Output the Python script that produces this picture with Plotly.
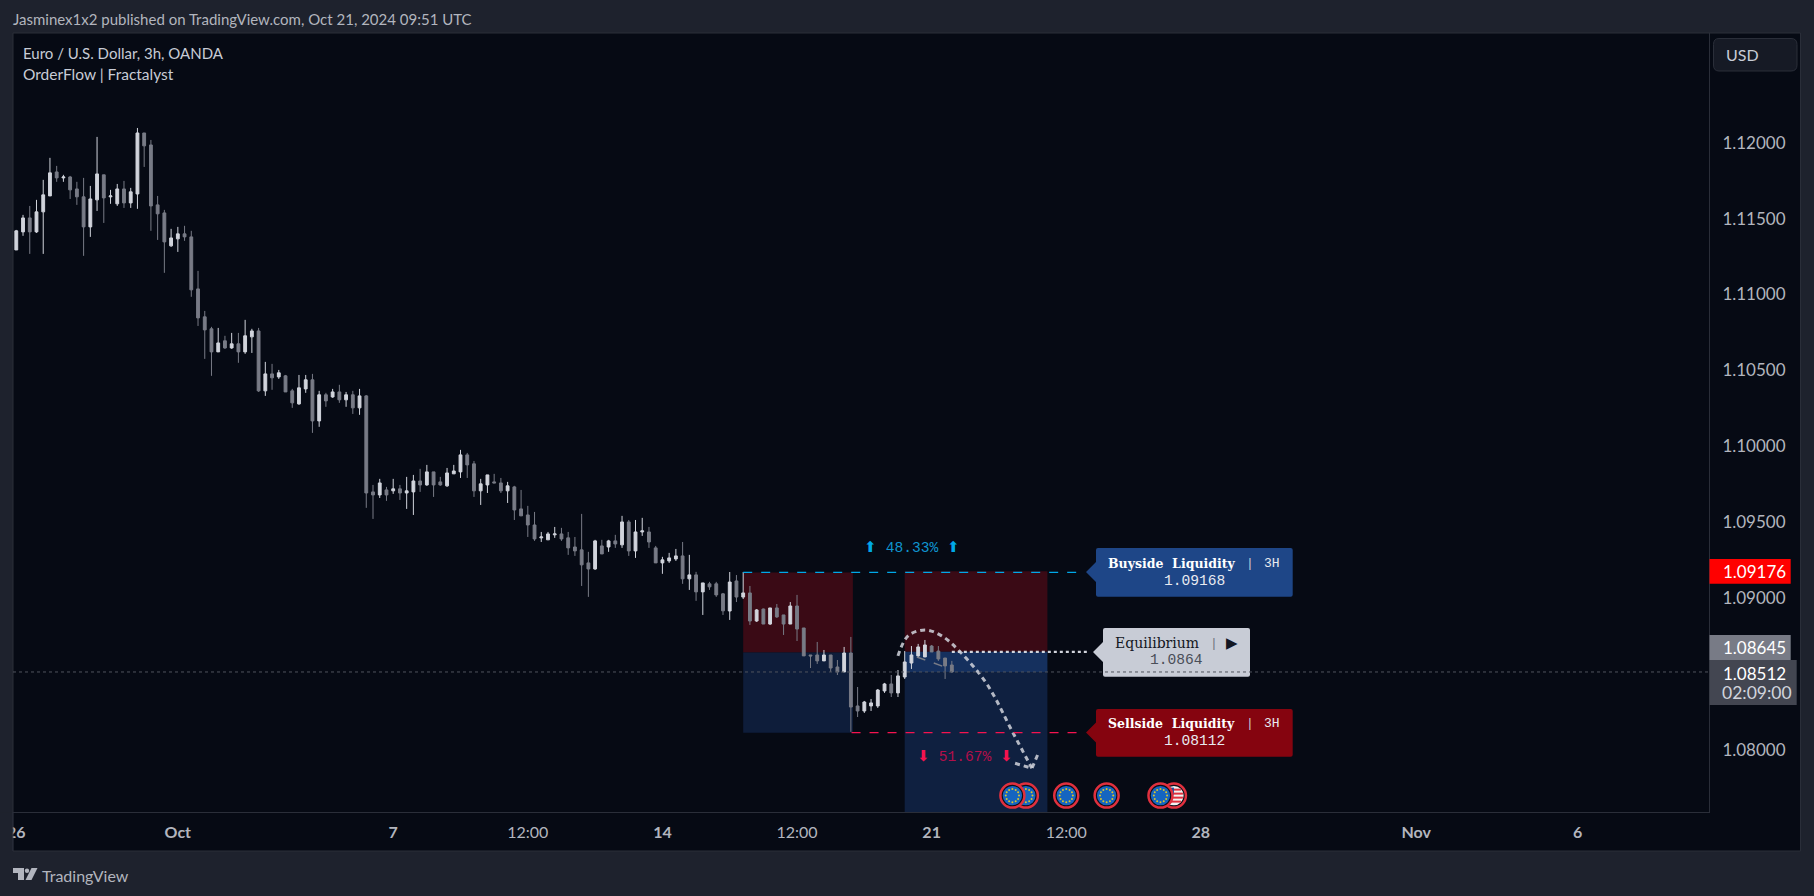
import math
import plotly.graph_objects as go

high = [
1.11426,1.11525,1.11584,1.11624,1.11756,1.11901,1.11848,1.11789,1.11782,1.11743,
1.11769,1.11716,1.12039,1.11789,1.11690,1.11729,1.11749,1.11703,1.12098,1.12065,
1.12019,1.11650,1.11558,1.11433,1.11446,1.11453,1.11420,1.11156,1.10892,1.10787,
1.10780,1.10728,1.10747,1.10747,1.10833,1.10774,1.10780,1.10556,1.10543,1.10503,
1.10470,1.10378,1.10470,1.10470,1.10477,1.10365,1.10352,1.10378,1.10405,1.10358,
1.10365,1.10378,1.10338,1.09745,1.09785,1.09732,1.09785,1.09745,1.09798,1.09811,
1.09851,1.09877,1.09831,1.09798,1.09857,1.09877,1.09976,1.09956,1.09903,1.09785,
1.09811,1.09818,1.09791,1.09765,1.09739,1.09712,1.09607,1.09567,1.09435,1.09435,
1.09468,1.09462,1.09435,1.09402,1.09554,1.09304,1.09383,1.09383,1.09383,1.09416,
1.09541,1.09514,1.09514,1.09528,1.09468,1.09343,1.09271,1.09297,1.09323,1.09369,
1.09284,1.09172,1.09099,1.09106,1.09106,1.09033,1.09171,1.09151,1.09171,1.09079,
1.08927,1.08930,1.08934,1.08960,1.08888,1.08973,1.09020,1.08802,1.08624,1.08710,
1.08657,1.08624,1.08591,1.08677,1.08743,1.08413,1.08321,1.08334,1.08400,1.08440,
1.08492,1.08525,1.08650,1.08683,1.08697,1.08723,1.08690,1.08683,1.08604,1.08585]

low = [
1.11294,1.11387,1.11268,1.11406,1.11268,1.11650,1.11743,1.11743,1.11630,1.11591,
1.11255,1.11380,1.11551,1.11472,1.11598,1.11584,1.11571,1.11571,1.11565,1.11841,
1.11420,1.11360,1.11143,1.11314,1.11281,1.11354,1.10985,1.10793,1.10576,1.10464,
1.10622,1.10642,1.10642,1.10550,1.10609,1.10615,1.10358,1.10332,1.10372,1.10444,
1.10358,1.10253,1.10273,1.10352,1.10088,1.10128,1.10260,1.10319,1.10286,1.10260,
1.10213,1.10207,1.09594,1.09521,1.09659,1.09640,1.09686,1.09646,1.09587,1.09547,
1.09699,1.09739,1.09666,1.09739,1.09732,1.09818,1.09791,1.09791,1.09666,1.09613,
1.09692,1.09758,1.09692,1.09626,1.09514,1.09541,1.09402,1.09376,1.09369,1.09383,
1.09396,1.09376,1.09284,1.09277,1.09079,1.09007,1.09185,1.09290,1.09304,1.09330,
1.09330,1.09277,1.09264,1.09409,1.09330,1.09231,1.09159,1.09231,1.09244,1.09093,
1.09053,1.08981,1.08888,1.09053,1.09007,1.08888,1.08855,1.08973,1.08993,1.08822,
1.08842,1.08828,1.08822,1.08868,1.08756,1.08828,1.08716,1.08618,1.08538,1.08565,
1.08585,1.08512,1.08492,1.08512,1.08117,1.08215,1.08242,1.08255,1.08275,1.08374,
1.08347,1.08347,1.08466,1.08532,1.08611,1.08611,1.08644,1.08585,1.08466,1.08505]

open_ = [
1.11294,1.11413,1.11505,1.11413,1.11545,1.11650,1.11808,1.11769,1.11775,1.11696,
1.11644,1.11446,1.11624,1.11789,1.11644,1.11598,1.11696,1.11604,1.11663,1.12065,
1.11986,1.11591,1.11538,1.11321,1.11367,1.11400,1.11380,1.11037,1.10853,1.10774,
1.10622,1.10695,1.10648,1.10675,1.10622,1.10721,1.10760,1.10365,1.10477,1.10457,
1.10464,1.10365,1.10279,1.10378,1.10438,1.10167,1.10339,1.10325,1.10358,1.10306,
1.10339,1.10253,1.10332,1.09699,1.09679,1.09712,1.09706,1.09719,1.09692,1.09699,
1.09771,1.09745,1.09831,1.09765,1.09739,1.09818,1.09831,1.09943,1.09884,1.09706,
1.09745,1.09765,1.09758,1.09706,1.09732,1.09587,1.09547,1.09481,1.09396,1.09383,
1.09416,1.09422,1.09396,1.09336,1.09317,1.09231,1.09191,1.09343,1.09336,1.09376,
1.09350,1.09501,1.09310,1.09435,1.09435,1.09330,1.09231,1.09244,1.09257,1.09277,
1.09126,1.09152,1.09040,1.09093,1.09093,1.09027,1.08914,1.09112,1.09006,1.09033,
1.08848,1.08927,1.08828,1.08934,1.08888,1.08828,1.08947,1.08802,1.08624,1.08624,
1.08585,1.08624,1.08545,1.08512,1.08637,1.08288,1.08255,1.08288,1.08288,1.08387,
1.08433,1.08374,1.08479,1.08571,1.08618,1.08611,1.08683,1.08650,1.08604,1.08558]

close = [
1.11420,1.11505,1.11413,1.11545,1.11657,1.11802,1.11769,1.11775,1.11690,1.11644,
1.11446,1.11630,1.11795,1.11637,1.11650,1.11696,1.11604,1.11677,1.12065,1.11980,
1.11584,1.11532,1.11347,1.11373,1.11400,1.11380,1.11031,1.10846,1.10767,1.10622,
1.10681,1.10648,1.10675,1.10622,1.10728,1.10760,1.10365,1.10477,1.10451,1.10484,
1.10358,1.10286,1.10385,1.10438,1.10167,1.10339,1.10299,1.10358,1.10306,1.10339,
1.10253,1.10332,1.09692,1.09679,1.09758,1.09679,1.09719,1.09692,1.09706,1.09771,
1.09745,1.09831,1.09745,1.09745,1.09824,1.09837,1.09943,1.09877,1.09706,1.09752,
1.09811,1.09758,1.09706,1.09739,1.09580,1.09541,1.09481,1.09389,1.09402,1.09422,
1.09422,1.09389,1.09330,1.09310,1.09218,1.09191,1.09376,1.09290,1.09376,1.09356,
1.09501,1.09310,1.09435,1.09442,1.09369,1.09231,1.09251,1.09264,1.09277,1.09126,
1.09152,1.09040,1.09099,1.09073,1.09020,1.08915,1.09105,1.09006,1.09033,1.08848,
1.08921,1.08828,1.08934,1.08875,1.08828,1.08947,1.08795,1.08618,1.08618,1.08585,
1.08624,1.08538,1.08512,1.08637,1.08281,1.08255,1.08314,1.08308,1.08393,1.08433,
1.08374,1.08486,1.08578,1.08624,1.08677,1.08690,1.08644,1.08598,1.08552,1.08512]

bar_index = list(range(len(close)))

y_tick_vals = [1.08, 1.09, 1.095, 1.10, 1.105, 1.11, 1.115, 1.12]
y_tick_text = ["1.08000", "1.09000", "1.09500", "1.10000", "1.10500", "1.11000", "1.11500", "1.12000"]
x_tick_vals = [0, 24, 56, 76, 96, 116, 136, 156, 176, 208, 232]
x_tick_text = ["<b>26</b>", "<b>Oct</b>", "<b>7</b>", "12:00", "<b>14</b>", "12:00", "<b>21</b>", "12:00", "<b>28</b>", "<b>Nov</b>", "<b>6</b>"]

buyside = 1.09168
sellside = 1.08112
equilibrium = 1.0864
zone_top = 1.09176
zone_mid = 1.08645
last_price = 1.08512
y_min, y_max = 1.07589, 1.12724
x_min, x_max = -0.49, 251.5

curve_x = [131, 132.5, 135, 137.5, 140.2, 144.2, 148.1, 150.9]
curve_y = [1.08618, 1.08750, 1.08789, 1.08750, 1.08646, 1.08433, 1.08110, 1.07877]
head_x = [148.4, 150.9, 151.8]
head_y = [1.07910, 1.07877, 1.07971]
faint_x = [133.8, 139.2]
faint_y = [1.08611, 1.08525]

event_index = [150, 148, 156, 162, 172, 170]
event_flag = ["EU", "EU", "EU", "EU", "US", "EU"]
event_price = 1.07697

BG = "#1e222d"
PANE = "#060a14"
BORDER = "#2a2e39"
TXT = "#b2b5be"
SANS = "Lato"
MONO = "Liberation Mono"
SERIF = "DejaVu Serif"

W, H = 1814, 896
L, R, T, B = 13, 1709, 33, 812


def X(px):
    return px / W


def Y(py):
    return 1 - py / H


shapes = []
annotations = []


def ann(text, px, py, size, color, font=SANS, anchor="left"):
    annotations.append(dict(text=text, x=X(px), y=Y(py), xref="paper", yref="paper",
                            xanchor=anchor, yanchor="middle", showarrow=False,
                            font=dict(family=font, size=size, color=color)))


def prect(x0, y0, x1, y1, fill, line=None, layer="above"):
    shapes.append(dict(type="rect", xref="paper", yref="paper", x0=X(x0), x1=X(x1), y0=Y(y0), y1=Y(y1),
                       fillcolor=fill, line=dict(color=line or fill, width=1 if line else 0), layer=layer))


def zone(i0, i1, p0, p1, fill):
    shapes.append(dict(type="rect", xref="x", yref="y", x0=i0, x1=i1, y0=p0, y1=p1,
                       fillcolor=fill, line=dict(width=0), layer="below"))


def hline(i0, i1, p, color, dash, width):
    shapes.append(dict(type="line", xref="x", yref="y", x0=i0, x1=i1, y0=p, y1=p,
                       line=dict(color=color, dash=dash, width=width), layer="above"))


def label_box(x0, x1, y0, y1, tip_x, tip_y, fill):
    r = 2
    pts = [f"M{X(x0 + r)},{Y(y0)}", f"L{X(x1 - r)},{Y(y0)}", f"Q{X(x1)},{Y(y0)} {X(x1)},{Y(y0 + r)}",
           f"L{X(x1)},{Y(y1 - r)}", f"Q{X(x1)},{Y(y1)} {X(x1 - r)},{Y(y1)}", f"L{X(x0 + r)},{Y(y1)}",
           f"Q{X(x0)},{Y(y1)} {X(x0)},{Y(y1 - r)}", f"L{X(x0)},{Y(tip_y + 10)}", f"L{X(tip_x)},{Y(tip_y)}",
           f"L{X(x0)},{Y(tip_y - 10)}", f"L{X(x0)},{Y(y0 + r)}", f"Q{X(x0)},{Y(y0)} {X(x0 + r)},{Y(y0)}", "Z"]
    shapes.append(dict(type="path", xref="paper", yref="paper", path=" ".join(pts),
                       fillcolor=fill, line=dict(width=0), layer="above"))


def circle(i, dx, dy, r, fill, line=None, lw=0):
    shapes.append(dict(type="circle", xref="x", yref="y", xsizemode="pixel", ysizemode="pixel",
                       xanchor=i, yanchor=event_price, x0=dx - r, x1=dx + r, y0=dy - r, y1=dy + r,
                       fillcolor=fill, line=dict(color=line or fill, width=lw), layer="above"))


def pxrect(i, x0, x1, y0, y1, fill):
    shapes.append(dict(type="rect", xref="x", yref="y", xsizemode="pixel", ysizemode="pixel",
                       xanchor=i, yanchor=event_price, x0=x0, x1=x1, y0=y0, y1=y1,
                       fillcolor=fill, line=dict(width=0), layer="above"))


# frame
prect(L, T, 1800.5, 851, PANE, BORDER, "below")

# zones
zone(108, 124.3, equilibrium, buyside, "#3a0a15")
zone(108, 124.3, sellside, equilibrium, "#0e1d3a")
zone(132, 153.2, zone_mid, zone_top, "#3a0a15")
zone(132, 153.2, last_price, zone_mid, "#15305e")
zone(132, 153.2, y_min, last_price, "#0f2040")

hline(108, 158.6, buyside, "#00a8e8", "dash", 1.3)
hline(124.1, 158.6, sellside, "#f5134f", "dash", 1.3)
hline(139, 159.5, zone_mid, "#d1d4dc", "dot", 2.2)

# labels
label_box(1096, 1292.7, 548, 596.7, 1086, 572, "#1e4687")
label_box(1103, 1250, 628, 676.7, 1093, 652, "#c8ccd6")
label_box(1096, 1292.7, 709, 756.7, 1086, 732.5, "#85040f")

# last price line on top of the labels
shapes.append(dict(type="line", xref="x domain", yref="y", x0=0, x1=1, y0=last_price, y1=last_price,
                   line=dict(color="#50535e", dash="dot", width=1), layer="above"))

ann("<b>Buyside\u00a0 Liquidity</b>", 1106, 563, 12.5, "#ffffff", SERIF)
ann("|", 1244, 563, 13, "#c8ccd6", MONO)
ann("3H", 1262, 563, 13, "#e8eaf0", MONO)
ann("1.09168", 1194.3, 580.7, 14.6, "#e8eaf0", MONO, "center")

ann("Equilibrium", 1113, 643, 14, "#131722", SERIF)
ann("|", 1208, 643, 13, "#70747f", MONO)
ann("\u25b6", 1232, 643, 15, "#131722", "DejaVu Sans", "center")
ann("1.0864", 1176, 660, 14.6, "#4a4e58", MONO, "center")

ann("<b>Sellside\u00a0 Liquidity</b>", 1106, 723.3, 12.5, "#ffffff", SERIF)
ann("|", 1244, 723.3, 13, "#c8ccd6", MONO)
ann("3H", 1262, 723.3, 13, "#e8eaf0", MONO)
ann("1.08112", 1194.3, 740.7, 14.6, "#e8eaf0", MONO, "center")

ann("<span style='color:#00a8e8'>\u2b06</span> 48.33% <span style='color:#00a8e8'>\u2b06</span>", 911.7, 547.5, 14.6, "#0f94cf", MONO, "center")
ann("<span style='color:#f5134f'>\u2b07</span> 51.67% <span style='color:#f5134f'>\u2b07</span>", 965, 757.3, 14.6, "#b30f4a", MONO, "center")

# page texts
ann("Jasminex1x2 published on TradingView.com, Oct 21, 2024 09:51 UTC", 11, 19, 15, TXT)
ann("Euro / U.S. Dollar, 3h, OANDA", 20.5, 53.5, 15, "#c8ccd6")
ann("OrderFlow | Fractalyst", 20.5, 74, 15.5, "#c8ccd6")
ann("TradingView", 40, 875, 16, TXT)

# TradingView logo
prect(13, 868, 24, 873, TXT)
prect(18, 873, 24, 880, TXT)
shapes.append(dict(type="circle", xref="paper", yref="paper", x0=X(24.8), x1=X(29.2), y0=Y(873), y1=Y(868.6),
                   fillcolor=TXT, line=dict(width=0), layer="above"))
shapes.append(dict(type="path", xref="paper", yref="paper",
                   path=f"M{X(31.5)},{Y(868)} L{X(37.5)},{Y(868)} L{X(31.5)},{Y(880)} L{X(25.5)},{Y(880)} Z",
                   fillcolor=TXT, line=dict(width=0), layer="above"))

# cut the first date label at the pane edge
prect(0, 812.5, 12.6, 852, BG)
shapes.append(dict(type="line", xref="paper", yref="paper", x0=X(12.8), x1=X(12.8), y0=Y(812), y1=Y(851),
                   line=dict(color=BORDER, width=1), layer="above"))

# price tags
prect(1709.5, 559, 1790.7, 583.7, "#ff0000")
ann("1.09176", 1721, 571.3, 17, "#ffffff")
prect(1709.5, 635, 1790.7, 660, "#787b86")
ann("1.08645", 1721, 647.3, 17, "#ffffff")
prect(1709.5, 660, 1796.7, 705, "#434651")
ann("1.08512", 1721, 673, 17, "#ffffff")
ann("02:09:00", 1720, 692, 17.5, "#d1d4dc")

# USD button
shapes.append(dict(type="path", xref="paper", yref="paper", layer="above",
                   fillcolor="#161a25", line=dict(color=BORDER, width=1),
                   path=" ".join([
                       f"M{X(1719)},{Y(38.5)}", f"L{X(1791)},{Y(38.5)}", f"Q{X(1797)},{Y(38.5)} {X(1797)},{Y(44.5)}",
                       f"L{X(1797)},{Y(65)}", f"Q{X(1797)},{Y(71)} {X(1791)},{Y(71)}", f"L{X(1719)},{Y(71)}",
                       f"Q{X(1713.5)},{Y(71)} {X(1713.5)},{Y(65)}", f"L{X(1713.5)},{Y(44.5)}",
                       f"Q{X(1713.5)},{Y(38.5)} {X(1719)},{Y(38.5)}", "Z"])))
ann("USD", 1724, 54.5, 16, "#c8ccd6")

# event icons
for i, flag in zip(event_index, event_flag):
    circle(i, 0, 0, 12, "#0b0f1a", "#e0303e", 2.5)
    if flag == "EU":
        circle(i, 0, 0, 9.7, "#1565c0")
        for k in range(12):
            a = k * math.pi / 6
            circle(i, 6.6 * math.cos(a), 6.6 * math.sin(a), 1.0, "#d9c52f")
    else:
        circle(i, 0, 0, 9.7, "#f2f2f2")
        for dy in (-7, -3, 1, 5):
            half = 9 if abs(dy) < 5 else 7
            pxrect(i, -half, half, dy, dy + 2, "#e0303e")
        pxrect(i, -8, 0, 1, 8, "#1c4fa0")

fig = go.Figure()
fig.add_trace(go.Candlestick(
    x=bar_index, open=open_, high=high, low=low, close=close,
    increasing=dict(line=dict(color="#d1d4dc", width=1), fillcolor="#d1d4dc"),
    decreasing=dict(line=dict(color="#787b86", width=1), fillcolor="#787b86"),
    whiskerwidth=0, showlegend=False, hoverinfo="skip"))
fig.add_trace(go.Scatter(x=faint_x, y=faint_y, mode="lines", showlegend=False, hoverinfo="skip",
                         line=dict(color="#787b86", width=1.5, dash="dash")))
fig.add_trace(go.Scatter(x=curve_x, y=curve_y, mode="lines", showlegend=False, hoverinfo="skip",
                         line=dict(color="rgba(209,212,220,0.85)", width=3, dash="5px,4px", shape="spline")))
fig.add_trace(go.Scatter(x=head_x, y=head_y, mode="lines", showlegend=False, hoverinfo="skip",
                         line=dict(color="rgba(209,212,220,0.85)", width=3, dash="5px,4px")))

fig.update_layout(
    width=W, height=H, autosize=False,
    margin=dict(l=0, r=0, t=0, b=0, pad=0),
    paper_bgcolor=BG, plot_bgcolor=PANE, showlegend=False, boxgap=0.4,
    shapes=shapes, annotations=annotations, hovermode=False,
    xaxis=dict(domain=[L / W, R / W], range=[x_min, x_max], rangeslider=dict(visible=False),
               showgrid=False, zeroline=False, automargin=False,
               tickmode="array", tickvals=x_tick_vals, ticktext=x_tick_text, ticks="", ticklabelstandoff=6,
               tickfont=dict(family=SANS, size=16, color="#b2b5be"),
               showline=True, linecolor=BORDER, linewidth=1),
    yaxis=dict(domain=[1 - B / H, 1 - T / H], range=[y_min, y_max], side="right",
               showgrid=False, zeroline=False, automargin=False,
               tickmode="array", tickvals=y_tick_vals, ticktext=y_tick_text, ticks="", ticklabelstandoff=9,
               tickfont=dict(family=SANS, size=17, color="#b2b5be"),
               showline=True, linecolor=BORDER, linewidth=1))

fig.write_html("out.html", config=dict(displayModeBar=False),
               post_script="document.body.style.margin='0';document.body.style.background='#1e222d';")
